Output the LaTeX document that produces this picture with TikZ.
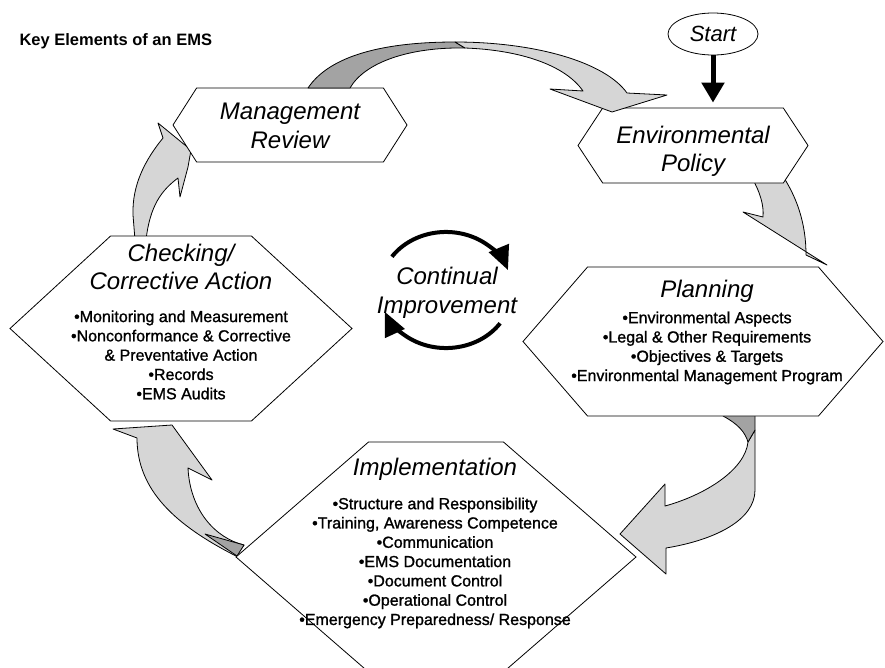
\documentclass[tikz,border=0pt]{standalone}
\usepackage{fontspec}
\setmainfont{Liberation Sans}
\newfontfamily\itemfont[FakeBold=1.2]{Liberation Sans}
\usepackage{tikz}
\usetikzlibrary{positioning, shapes.symbols, shapes.geometric, arrows.meta}
\definecolor{bandlight}{HTML}{D6D6D6}
\definecolor{banddark}{HTML}{A3A3A3}

\begin{document}
\begin{tikzpicture}[x=1pt, y=-1pt,
        hexa/.style = {shape=signal, signal to=east and west, draw, fill=white,
                      line width=0.8pt, inner sep=0pt},
        head/.style = {align=center, inner sep=0pt,
                      font=\fontsize{24}{28.5}\selectfont\itshape},
       items/.style = {align=center, inner sep=0pt,
                      font=\itemfont\fontsize{16}{19.3}\selectfont},
        band/.style = {draw, line width=0.8pt, line join=round, fill=#1},
       cycle/.style = {line width=4pt, -{Triangle[length=24pt, width=21pt]}},
   startnode/.style = {ellipse, draw, line width=0.8pt, inner sep=0pt,
                      minimum width=90pt, minimum height=42pt,
                      font=\fontsize{22}{26}\selectfont\itshape}
                        ]
\useasboundingbox (0,0) rectangle (885,667);
\fill[white] (0,0) rectangle (885,667);
\node[anchor=base west, font=\bfseries\fontsize{16.5}{19}\selectfont] (title) at (16,45) {Key Elements of an EMS};
% bands that run behind the boxes
\draw[band=bandlight] (752,178) .. controls (760,192) and (764,205) .. (763,217) -- (743,212) -- (827,265)
    -- (806,255) .. controls (806,225) and (798,195) .. (775,165) -- cycle;
\draw[band=bandlight] (748,442) .. controls (745,470) and (705,495) .. (665,506) -- (665,484) -- (620,534)
    -- (666,574) -- (666,548) .. controls (715,540) and (755,520) .. (755,490) -- (755,430) -- cycle;
\draw[band=banddark] (723,410) -- (723,416) .. controls (738,424) and (745,432) .. (748,442) -- (755,430) -- (755,410) -- cycle;
\draw[band=bandlight] (236,556) .. controls (175,525) and (137,490) .. (137,438) -- (113,429) -- (172,425)
    -- (212,480) -- (188,468) .. controls (190,510) and (215,538) .. (244,545) -- cycle;
\draw[band=banddark] (205,534) -- (244,545) -- (237,556) -- cycle;
\draw[band=bandlight] (135,240) -- (133,215) .. controls (132,185) and (145,160) .. (163,138) -- (158,123)
    -- (191,150) -- (188,167) -- (180,197) -- (178,178) .. controls (162,190) and (150,205) .. (146,240) -- cycle;
% the five stages
\node[hexa, minimum width=234pt, minimum height=74pt, signal pointer angle=114.9] (review) at (290,125) {};
\node[hexa, minimum width=230pt, minimum height=75pt, signal pointer angle=113.3] (policy) at (693,145.5) {};
\node[hexa, minimum width=342pt, minimum height=185pt, signal pointer angle=85.2] (check) at (181,328.5) {};
\node[hexa, minimum width=360pt, minimum height=149pt, signal pointer angle=98.2] (plan) at (703,341.5) {};
\node[hexa, minimum width=400pt, minimum height=230pt, signal pointer angle=81.9] (impl) at (436,557) {};
% review -> policy goes over the boxes
\draw[band=banddark] (308,88) .. controls (330,55) and (385,42) .. (455,42) -- (465,48)
    .. controls (410,47) and (365,62) .. (350,88) -- cycle;
\draw[band=bandlight] (455,42) .. controls (535,42) and (605,62) .. (627,93) -- (667,95) -- (612,112)
    -- (550,89) -- (583,91) .. controls (565,65) and (520,50) .. (465,48) -- cycle;
% texts
\node[head] (reviewtext) at (290,126) {Management\\Review};
\node[head] (policytext) at (693,151.5) {Environmental\\Policy};
\node[head] (checktext) at (181,267) {Checking/\\Corrective Action};
\node[items] (checkitems) [below=20pt of checktext] {•Monitoring and Measurement\\•Nonconformance \& Corrective\\\& Preventative Action\\•Records\\•EMS Audits};
\node[head] (plantext) at (707,291) {Planning};
\node[items] (planitems) [below=9pt of plantext] {•Environmental Aspects\\•Legal \& Other Requirements\\•Objectives \& Targets\\•Environmental Management Program};
\node[head] (impltext) at (435,469) {Implementation};
\node[items] (implitems) [below=17pt of impltext] {•Structure and Responsibility\\•Training, Awareness Competence\\•Communication\\•EMS Documentation\\•Document Control\\•Operational Control\\•Emergency Preparedness/ Response};
\node[head] (cycletext) at (447,293) {Continual\\Improvement};
\draw[cycle] (391.9,256.7) arc[start angle=215, end angle=340, x radius=66, y radius=58];
\draw[cycle] (500.1,323.3) arc[start angle=35, end angle=158, x radius=66, y radius=58];
% start
\node[startnode] (start) at (713,34) {Start};
\draw[line width=5pt, -{Triangle[length=20pt, width=22pt]}, shorten >=5pt] (start) -- (start |- policy.north);
\end{tikzpicture}
\end{document}
